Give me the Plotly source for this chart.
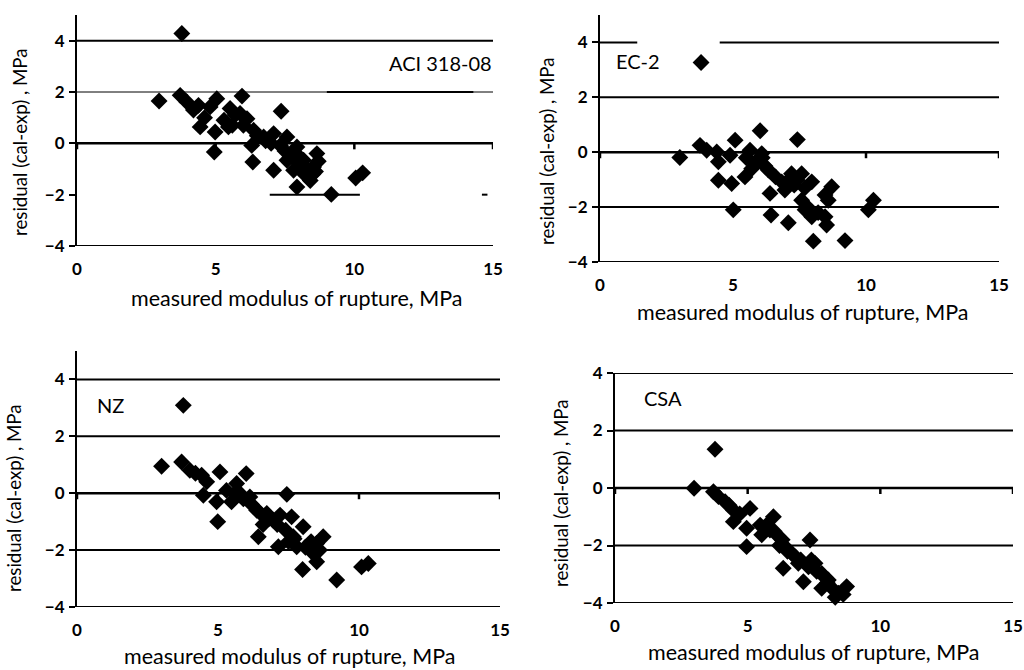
import plotly.graph_objects as go

# ---------------- data ----------------
aci_x = [3.78, 2.96, 3.72, 3.96, 4.38, 5.04, 4.80, 4.44, 4.98, 4.95, 5.46, 5.52, 5.95, 5.88, 6.13,
         6.37, 6.30, 6.34, 7.36, 6.73, 7.09, 7.57, 7.33, 7.09, 7.93, 7.57, 7.81, 8.17, 8.65, 8.53,
         8.41, 7.93, 9.17, 10.05, 10.30,
         4.20, 4.60, 5.30, 5.70, 6.00, 6.50, 6.80, 7.00, 7.50, 7.70, 8.00, 8.30, 8.50, 8.70, 5.60,
         7.90, 8.20, 8.60]
aci_y = [4.28, 1.65, 1.87, 1.61, 1.48, 1.74, 1.42, 0.64, 0.44, -0.34, 0.64, 1.36, 1.84, 1.16, 0.96,
         0.51, -0.08, -0.73, 1.25, 0.25, 0.38, 0.25, -0.08, -1.05, -0.14, -0.66, -1.05, -0.66, -0.40, -0.92,
         -1.45, -1.70, -1.99, -1.35, -1.15,
         1.30, 1.00, 0.90, 1.10, 0.70, 0.30, 0.10, 0.00, -0.30, -0.50, -0.80, -1.00, -1.20, -0.70, 0.70,
         -0.40, -1.20, -1.10]

ec_x = [3.80, 3.00, 3.76, 4.01, 4.39, 4.45, 5.08, 4.89, 4.45, 4.95, 5.45, 5.01, 6.02, 5.64, 6.08,
        5.83, 6.33, 7.42, 6.39, 6.43, 6.83, 6.95, 7.20, 7.58, 7.08, 7.96, 7.58, 7.71, 7.96, 8.46,
        8.71, 8.58, 8.46, 8.52, 8.02, 9.21, 10.09, 10.28,
        5.50, 5.90, 6.20, 6.60, 7.00, 7.40, 7.70, 7.80, 8.20, 6.10, 5.70, 7.30]
ec_y = [3.27, -0.19, 0.25, 0.07, 0.01, -0.35, 0.44, -0.11, -1.02, -1.14, -0.90, -2.10, 0.78, 0.07, -0.05,
        -0.41, -0.65, 0.46, -1.50, -2.29, -1.08, -1.38, -0.78, -0.78, -2.57, -1.08, -1.75, -2.10, -2.35, -1.56,
        -1.26, -1.75, -2.35, -2.65, -3.24, -3.22, -2.10, -1.75,
        -0.20, -0.30, -0.50, -0.90, -1.10, -1.00, -1.30, -2.00, -2.20, -0.20, -0.60, -1.20]

nz_x = [3.77, 3.00, 3.71, 4.00, 4.42, 5.07, 4.48, 4.95, 4.99, 5.48, 5.66, 6.00, 5.78, 6.13, 6.37,
        7.44, 6.43, 6.73, 6.96, 7.20, 7.61, 7.14, 8.02, 7.67, 7.79, 8.73, 8.50, 8.38, 8.50, 8.00,
        9.21, 10.09, 10.33,
        4.20, 4.60, 5.30, 5.60, 5.90, 6.20, 6.50, 6.80, 7.10, 7.40, 7.70, 8.10, 8.30, 8.60, 7.50, 6.60]
nz_y = [3.09, 0.95, 1.10, 0.81, 0.63, 0.75, -0.07, -0.30, -1.00, -0.30, 0.34, 0.69, -0.01, -0.13, -0.60,
        -0.04, -1.53, -0.71, -0.95, -0.77, -0.83, -1.88, -1.18, -1.53, -1.88, -1.53, -1.77, -2.12, -2.41, -2.68,
        -3.05, -2.59, -2.47,
        0.70, 0.40, 0.10, 0.00, -0.20, -0.40, -0.70, -0.90, -1.10, -1.30, -1.60, -1.90, -1.70, -2.00, -1.70, -1.10]

csa_x = [3.77, 2.98, 3.71, 4.15, 4.46, 5.09, 4.46, 4.96, 4.96, 5.47, 5.53, 5.97, 5.84, 6.16, 6.41,
         6.34, 6.66, 7.35, 6.91, 7.10, 7.29, 7.54, 7.79, 7.79, 8.04, 8.42, 8.73, 8.48,
         3.90, 4.30, 4.70, 5.70, 6.00, 6.30, 6.50, 6.80, 7.00, 7.40, 7.60, 8.00, 8.20, 8.60, 8.30, 7.90, 6.20]
csa_y = [1.35, -0.01, -0.13, -0.48, -0.77, -0.71, -1.17, -1.40, -2.04, -1.29, -1.63, -1.00, -1.46, -1.69, -2.04,
         -2.79, -2.27, -1.81, -2.62, -3.26, -2.74, -2.62, -2.97, -3.49, -3.20, -3.66, -3.43, -4.01,
         -0.30, -0.60, -0.90, -1.30, -1.50, -1.80, -2.20, -2.40, -2.50, -2.50, -2.90, -3.30, -3.50, -3.70, -3.80, -3.10, -2.00]

panel_names = ["ACI 318-08", "EC-2", "NZ", "CSA"]
x_ticks = [0, 5, 10, 15]
y_ticks = [-4, -2, 0, 2, 4]
x_title = "measured modulus of rupture, MPa"
y_title = "residual (cal-exp) , MPa"

# ---------------- layout geometry (pixels of the 1024x670 page) ----------------
W, H = 1024, 670
FONT = "Lato"
panels = [
    dict(xd=(77, 493), yd=(15, 246), yr=(-4, 5), lab=(440, 63), yt=(20, 142), xt=(296, 298)),
    dict(xd=(600, 999), yd=(15, 262), yr=(-4, 5), lab=(638, 61), yt=(547, 151), xt=(802, 312)),
    dict(xd=(77, 500), yd=(351, 607), yr=(-4, 5), lab=(110, 405), yt=(14, 498), xt=(289, 656)),
    dict(xd=(615, 1013), yd=(373, 603), yr=(-4, 4), lab=(663, 398), yt=(561, 493), xt=(813, 652)),
]
# horizontal rule segments per panel: (y, x0, x1, width) -- mimics the scanned figure
rules = [
    [(4, 0, 15, 2), (2, 0, 9.0, 1), (2, 9.0, 14.3, 2), (2, 14.3, 15, 1), (0, 0, 15, 2.5),
     (-2, 6.95, 10.2, 2), (-2, 14.6, 14.8, 2), (-4, 0, 15, 2)],
    [(4, 0, 1.4, 2), (4, 4.5, 15, 2), (2, 0, 15, 2), (0, 0, 15, 2.5), (-2, 0, 15, 2), (-4, 0, 15, 2)],
    [(4, 0, 15, 2), (2, 0, 15, 2), (0, 0, 15, 2.5), (-2, 0, 15, 2), (-4, 0, 15, 2)],
    [(4, 0, 15, 2), (2, 0, 15, 2), (0, 0, 15, 2.5), (-2, 0, 15, 2), (-4, 0, 15, 2)],
]

data_sets = [(aci_x, aci_y), (ec_x, ec_y), (nz_x, nz_y), (csa_x, csa_y)]

fig = go.Figure()
shapes = []
annotations = []
for i, (p, (xs, ys)) in enumerate(zip(panels, data_sets)):
    n = "" if i == 0 else str(i + 1)
    xa, ya = "x" + n, "y" + n
    fig.add_trace(go.Scatter(
        x=xs, y=ys, mode="markers", xaxis=xa, yaxis=ya, cliponaxis=False,
        marker=dict(symbol="diamond", size=13, color="black", line=dict(width=0)),
        showlegend=False, hoverinfo="x+y"))
    fig.layout["xaxis" + n] = dict(
        domain=[p["xd"][0] / W, p["xd"][1] / W], anchor=ya, range=[0, 15], automargin=False,
        tickvals=x_ticks, ticks="", showgrid=False, zeroline=False, showline=False,
        ticklabelstandoff=11, tickfont=dict(family=FONT, size=17, color="black", weight="bold"))
    fig.layout["yaxis" + n] = dict(
        domain=[1 - p["yd"][1] / H, 1 - p["yd"][0] / H], anchor=xa, range=list(p["yr"]), automargin=False,
        tickvals=y_ticks, ticks="outside", ticklen=6, tickwidth=2, tickcolor="black",
        showgrid=False, zeroline=False, showline=True, linewidth=2, linecolor="black",
        ticklabelstandoff=1, tickfont=dict(family=FONT, size=17, color="black", weight="bold"))
    for (yv, x0, x1, w) in rules[i]:
        shapes.append(dict(type="line", xref=xa, yref=ya, x0=x0, x1=x1, y0=yv, y1=yv,
                           line=dict(color="black", width=w), layer="below"))
    for xv in x_ticks:
        shapes.append(dict(type="line", xref=xa, yref=ya, xsizemode="scaled", ysizemode="pixel",
                           yanchor=0, x0=xv, x1=xv, y0=0, y1=-6,
                           line=dict(color="black", width=2.5), layer="below"))
    annotations.append(dict(text=panel_names[i], xref="paper", yref="paper",
                            x=p["lab"][0] / W, y=1 - p["lab"][1] / H, xanchor="center", yanchor="middle",
                            showarrow=False, font=dict(family=FONT, size=20, color="black")))
    annotations.append(dict(text=y_title, xref="paper", yref="paper", textangle=-90,
                            x=p["yt"][0] / W, y=1 - p["yt"][1] / H, xanchor="center", yanchor="middle",
                            showarrow=False, font=dict(family=FONT, size=18.7, color="black")))
    annotations.append(dict(text=x_title, xref="paper", yref="paper",
                            x=p["xt"][0] / W, y=1 - p["xt"][1] / H, xanchor="center", yanchor="middle",
                            showarrow=False, font=dict(family=FONT, size=21.5, color="black")))

fig.update_layout(
    width=W, height=H, margin=dict(l=0, r=0, t=0, b=0, autoexpand=False),
    paper_bgcolor="white", plot_bgcolor="white",
    shapes=shapes, annotations=annotations, showlegend=False,
)
# remove the browser's default 8px body margin so the 1024x670 figure fills the window exactly
fig.write_html("out.html", config={"displayModeBar": False},
               post_script="document.body.style.margin='0';document.body.style.overflow='hidden';")
